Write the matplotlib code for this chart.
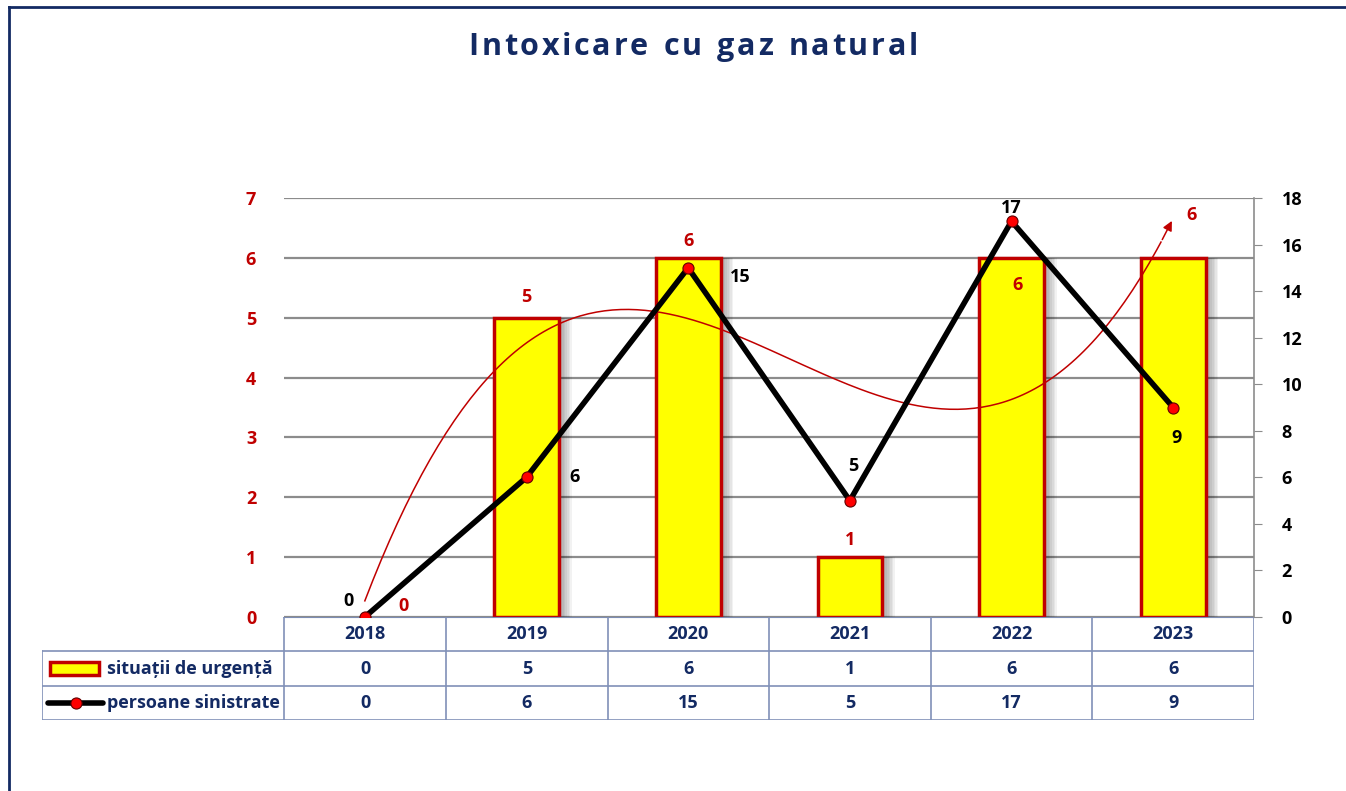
import numpy as np
import matplotlib.pyplot as plt
from matplotlib.lines import Line2D
from matplotlib.patches import Rectangle

# date
ani = ["2018", "2019", "2020", "2021", "2022", "2023"]
situatii = [0, 5, 6, 1, 6, 6]
persoane = [0, 6, 15, 5, 17, 9]
eticheta_bare = "situații de urgență"
eticheta_linie = "persoane sinistrate"
titlu = "Intoxicare cu gaz natural"

navy = "#132A63"
rosu = "#C00000"
font = "Open Sans"
plt.rcParams['font.family'] = [font, 'DejaVu Sans']

W, H = 1346, 791
fig = plt.figure(figsize=(W / 100, H / 100), dpi=100)

# chenar exterior
fig.add_artist(Line2D([9 / W, 9 / W], [0, 1 - 7 / H], color=navy, lw=2))
fig.add_artist(Line2D([9 / W, 1], [1 - 7 / H, 1 - 7 / H], color=navy, lw=2))

# titlu cu spatiere intre litere
fig.canvas.draw()
r = fig.canvas.get_renderer()
spatiu = 2.7
latimi = []
for ch in titlu:
    t = fig.text(0, 0, ch if ch != " " else "a", fontsize=22, fontweight="bold")
    latimi.append(t.get_window_extent(r).width if ch != " " else
                  t.get_window_extent(r).width * 0.55)
    t.remove()
total = sum(latimi) + spatiu * (len(titlu) - 1)
px = 693 - total / 2
for ch, w in zip(titlu, latimi):
    if ch != " ":
        fig.text(px / W, 1 - 47 / H, ch, ha="left", va="center",
                 fontsize=22, fontweight="bold", color=navy)
    px += w + spatiu

x = np.arange(len(ani))

ax = fig.add_axes([284 / W, 1 - 617 / H, 970 / W, 419 / H])
ax.set_xlim(-0.5, 5.5)
ax.set_ylim(0, 7)
ax.set_yticks(range(8))
ax.grid(axis="y", color="#8c8c8c", lw=1.6)
ax.set_axisbelow(True)
for s in ["left", "top", "right"]:
    ax.spines[s].set_visible(False)
ax.spines["bottom"].set_color("#7080a0")
ax.set_xticks([])
ax.tick_params(axis="y", length=0, pad=20, labelcolor=rosu, labelsize=13)
for t in ax.get_yticklabels():
    t.set_fontweight("bold")

# umbra barelor
for k in range(1, 7):
    ax.bar(x + 0.01 * k + 0.02, situatii, width=0.4, color="#000000",
           alpha=0.05, lw=0, zorder=1)
muchii = [rosu if v > 0 else "none" for v in situatii]
ax.bar(x, situatii, width=0.4, color="#FFFF00", edgecolor=muchii, lw=2.5, zorder=2)

# trend polinomial
coef = np.polyfit(x, situatii, 3)
xt = np.linspace(0, 5, 200)
yt = np.polyval(coef, xt)
ax.plot(xt[:-3], yt[:-3], color=rosu, lw=1.1, zorder=3)
ax.annotate("", xy=(xt[-1], yt[-1]), xytext=(xt[-4], yt[-4]),
            arrowprops=dict(arrowstyle="-|>", color=rosu, lw=1.1,
                            mutation_scale=14), zorder=3)
ax.text(xt[-1] + 0.08, yt[-1] + 0.05, "6", color=rosu, fontsize=13,
        fontweight="bold", ha="left", va="center")

ax2 = ax.twinx()
ax2.set_ylim(0, 18)
ax2.set_yticks(range(0, 19, 2))
for s in ["left", "top", "bottom"]:
    ax2.spines[s].set_visible(False)
ax2.spines["right"].set_color("#8c8c8c")
ax2.spines["right"].set_linewidth(1.2)
ax2.tick_params(axis="y", length=6, color="#8c8c8c", pad=14, labelsize=13)
for t in ax2.get_yticklabels():
    t.set_fontweight("bold")
ax2.plot(x, persoane, color="black", lw=4, marker="o", ms=8,
         mfc="red", mec="#600000", mew=0.8, zorder=5)

# etichete bare
off_bare = [(0.24, 0.18), (0, 0.35), (0, 0.28), (0, 0.28), (0.04, -0.45), (0, 0)]
for i, v in enumerate(situatii):
    if i == 5:
        continue
    dx, dy = off_bare[i]
    ax.text(i + dx, v + dy, str(v), color=rosu,
            fontsize=13, fontweight="bold", ha="center", va="center", zorder=6)

# etichete linie
off_linie = [(-0.1, 0.7), (0.3, 0), (0.32, -0.4), (0.02, 1.5), (0, 0.55), (0.02, -1.3)]
for i, v in enumerate(persoane):
    dx, dy = off_linie[i]
    ax2.text(i + dx, v + dy, str(v), color="black", fontsize=13,
             fontweight="bold", ha="center", va="center", zorder=6)
ax2.set_zorder(ax.get_zorder() + 1)
ax2.patch.set_visible(False)

# tabel de date
tb = fig.add_axes([42 / W, 1 - 720 / H, 1212 / W, 103 / H])
tb.set_xlim(-2, 5.5)
tb.set_ylim(3, 0)
tb.axis("off")
lc = "#8090b8"
tb.plot([-2, 5.5], [1, 1], color=lc, lw=1.2)
tb.plot([-2, 5.5], [2, 2], color=lc, lw=1.2)
tb.plot([-2, 5.5], [3, 3], color=lc, lw=1.2)
tb.plot([-0.5, 5.5], [0, 0], color=lc, lw=1.2)
tb.plot([-2, -2], [1, 3], color=lc, lw=1.2)
for b in np.arange(-0.5, 5.6, 1):
    tb.plot([b, b], [0, 3], color=lc, lw=1.2)
for i in range(len(ani)):
    tb.text(i, 0.5, ani[i], ha="center", va="center", color=navy,
            fontsize=13, fontweight="bold")
    tb.text(i, 1.5, str(situatii[i]), ha="center", va="center", color=navy,
            fontsize=13, fontweight="bold")
    tb.text(i, 2.5, str(persoane[i]), ha="center", va="center", color=navy,
            fontsize=13, fontweight="bold")
tb.add_patch(Rectangle((-1.95, 1.3), 0.3, 0.4, facecolor="#FFFF00",
                       edgecolor=rosu, lw=2.5))
tb.plot([-1.96, -1.62], [2.5, 2.5], color="black", lw=4, solid_capstyle="round")
tb.plot([-1.79], [2.5], marker="o", ms=8, mfc="red", mec="#600000", mew=0.8)
tb.text(-1.6, 1.5, eticheta_bare, ha="left", va="center", color=navy,
        fontsize=13, fontweight="bold")
tb.text(-1.6, 2.5, eticheta_linie, ha="left", va="center", color=navy,
        fontsize=13, fontweight="bold")

fig.savefig("out.png", dpi=100)
